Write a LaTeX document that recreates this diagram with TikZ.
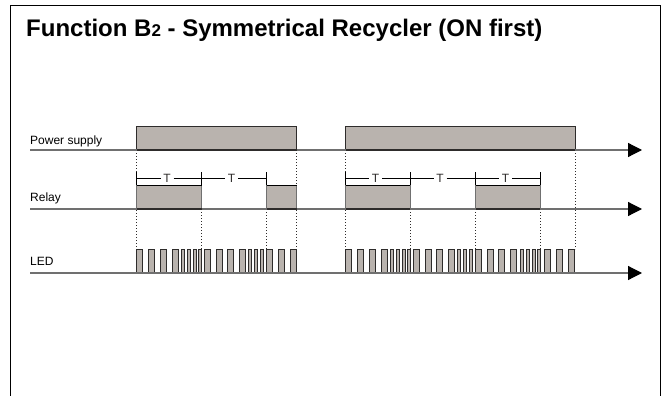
\documentclass[tikz,border=0pt]{standalone}
\usepackage{fontspec}
\setmainfont{Liberation Sans}
\usetikzlibrary{arrows.meta}
\definecolor{fillgrey}{HTML}{B9B3AE}
\definecolor{baseg}{HTML}{707070}
\definecolor{darkg}{HTML}{2E2C2B}
\tikzset{
  baseline axis/.style={draw=baseg,line width=1.2pt,-{Triangle[length=14pt,width=14pt,black]}},
  block/.style={fill=fillgrey,draw=darkg,line width=0.7pt},
  blockbase/.style={draw=darkg,line width=1.4pt},
  pulse/.style={fill=fillgrey,draw=darkg,line width=0.9pt},
  guide/.style={draw=darkg,line width=0.6pt,dash pattern=on 1pt off 2pt},
  dim/.style={draw=black,line width=0.8pt},
  lbl/.style={inner sep=0pt,anchor=base west,font=\fontsize{12}{14}\selectfont},
  tlbl/.style={inner sep=0pt,anchor=base,font=\fontsize{12}{14}\selectfont,text=darkg}
}
\begin{document}
\begin{tikzpicture}[x=1pt,y=-1pt]
\useasboundingbox (0,0) rectangle (667,396);
% frame
\draw[black,line width=1pt] (10.5,396) -- (10.5,6) -- (660,6) -- (660,396);
% title
\node[inner sep=0pt,anchor=base west,font=\bfseries\fontsize{24}{28}\selectfont] (title) at (26,36.5)
  {Function B{\fontsize{17}{20}\selectfont 2} - Symmetrical Recycler (ON first)};
% labels
\node[lbl] (lp) at (30,144) {Power supply};
\node[lbl] (lr) at (30,201) {Relay};
\node[lbl] (ll) at (30,265) {LED};
% guides
\foreach \x in {136.5,296.5,345.5,575}
  \draw[guide] (\x,150) -- (\x,249);
\foreach \x in {201.5,266.5,410,475.5,540}
  \draw[guide] (\x,209) -- (\x,249);
% power
\foreach \a/\b in {136.5/296.5,345.5/575}{
  \fill[fillgrey] (\a,126) rectangle (\b,150);
  \draw[block,fill=none] (\a,150) -- (\a,126) -- (\b,126) -- (\b,150);
}
% relay
\foreach \a/\b in {136.5/201.5,266.5/296.5,345.5/410,475.5/540}{
  \fill[fillgrey] (\a,185) rectangle (\b,209);
  \draw[block,fill=none,draw=baseg] (\a,185) -- (\a,209) (\b,185) -- (\b,209);
  \draw[dim] (\a,185) -- (\b,185);
}
% LED pulses
\foreach \s in {136.5,204,345.5,413}{
  \foreach \d in {0,12,23.5,35.5}
    \draw[pulse] (\s+\d,273) -- (\s+\d,249.5) -- (\s+\d+6,249.5) -- (\s+\d+6,273);
  \foreach \d in {44.5,50.5,56.5,62}
    \draw[pulse] (\s+\d,273) -- (\s+\d,249.5) -- (\s+\d+3.2,249.5) -- (\s+\d+3.2,273);
}
\foreach \s in {475.5}{
  \foreach \d in {0,11.5,23,35,69,81,92.5}
    \draw[pulse] (\s+\d,273) -- (\s+\d,249.5) -- (\s+\d+6,249.5) -- (\s+\d+6,273);
  \foreach \d in {44.5,50.5,56.5,62}
    \draw[pulse] (\s+\d,273) -- (\s+\d,249.5) -- (\s+\d+3.2,249.5) -- (\s+\d+3.2,273);
}
\foreach \s/\w in {266.5/6,278.5/6,290.5/6}
  \draw[pulse] (\s,273) -- (\s,249.5) -- (\s+\w,249.5) -- (\s+\w,273);
% axes
\coordinate (p0) at (30,150); \coordinate (p1) at (642,150);
\coordinate (r0) at (30,209); \coordinate (r1) at (642,209);
\coordinate (l0) at (30,273); \coordinate (l1) at (642,273);
\draw[baseline axis] (p0) -- (p1);
\draw[baseline axis] (r0) -- (r1);
\draw[baseline axis] (l0) -- (l1);
\foreach \a/\b in {136.5/296.5,345.5/575}
  \draw[blockbase] (\a,150) -- (\b,150);
\foreach \a/\b in {136.5/201.5,266.5/296.5,345.5/410,475.5/540}
  \draw[blockbase] (\a,209) -- (\b,209);
% T dimension lines
\foreach \x in {136.5,201.5,266.5,345.5,410,475.5,540}
  \draw[dim] (\x,172) -- (\x,185);
\foreach \a/\m/\b in {136.5/167/201.5,201.5/231.5/266.5,345.5/375.5/410,410/440/475.5,475.5/505.5/540}{
  \draw[dim] (\a,178) -- (\m-6.5,178);
  \draw[dim] (\m+6.5,178) -- (\b,178);
  \node[tlbl] at (\m,182.5) {T};
}
\end{tikzpicture}
\end{document}
